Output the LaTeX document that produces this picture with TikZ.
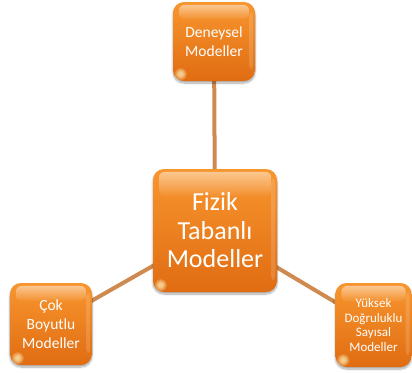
\documentclass[tikz,border=0pt]{standalone}
\usepackage{fontspec}
\setmainfont{Carlito}
\usetikzlibrary{shadows.blur,fadings}

\definecolor{boxtop}{HTML}{F8962E}
\definecolor{boxbot}{HTML}{E06C12}
\definecolor{linkcol}{HTML}{CF8A50}

% glossy band: opaque near the top, transparent lower down
\begin{tikzfadingfrompicture}[name=glossfade]
  \shade[top color=white, bottom color=black] (0,0) rectangle (2,2);
\end{tikzfadingfrompicture}

\tikzset{
  gbox/.style={draw=none, rounded corners=11pt, top color=boxtop, bottom color=boxbot,
    text=white, align=center, inner sep=2pt,
    blur shadow={shadow xshift=0pt, shadow yshift=-2pt, shadow blur steps=10, shadow opacity=35}},
  link/.style={draw=linkcol, line width=4pt}
}

% \glossy{name}{cx}{cy}{width}{height}{font size}{line skip}{text}
\newcommand\glossy[8]{%
  \node[gbox, minimum width=#4pt, minimum height=#5pt,
        font=\fontsize{#6}{#7}\selectfont] (#1) at (#2,#3) {#8};
  % light band along the top edge
  \fill[white, path fading=glossfade, fill opacity=0.5, rounded corners=6pt]
    ([xshift=6pt,yshift=-3pt]#1.north west) rectangle ([xshift=-6pt,yshift=-0.22*#5pt]#1.north east);
  % brighter rim on the right side
  \fill[white, fill opacity=0.15, rounded corners=4pt]
    ([xshift=-6pt,yshift=-10pt]#1.north east) rectangle ([xshift=-2pt,yshift=12pt]#1.south east);
  % soft warm glint in the lower left corner
  \foreach \r in {6,5,4,3,2}
    \fill[yellow!20!white, fill opacity=0.2] ([xshift=8pt,yshift=7pt]#1.south west) circle (\r pt);
}

\begin{document}
\begin{tikzpicture}[x=1pt,y=-1pt]
  \useasboundingbox (0,0) rectangle (412,372);

  % connectors run centre to centre, under the boxes
  \coordinate (cT) at (214,41.5);
  \coordinate (cC) at (215,230.5);
  \coordinate (cL) at (51,324);
  \coordinate (cR) at (373.5,325);
  \draw[link] (cC) -- (cT);
  \draw[link] (cC) -- (cL);
  \draw[link] (cC) -- (cR);

  \glossy{top}{214}{41.5}{82}{79}{15.5}{18.5}{Deneysel\\Modeller}
  \glossy{left}{51}{324}{82}{82}{15.5}{19}{Çok\\Boyutlu\\Modeller}
  \glossy{right}{373.5}{325}{76}{84}{13}{14.8}{Yüksek\\Doğruluklu\\Sayısal\\Modeller}
  \glossy{center}{215}{230.5}{124}{123}{26}{28.5}{Fizik\\Tabanlı\\Modeller}
\end{tikzpicture}
\end{document}
